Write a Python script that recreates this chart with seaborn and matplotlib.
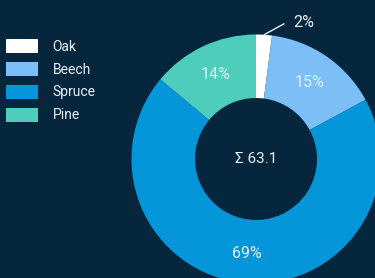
import numpy as np
import matplotlib
matplotlib.use("Agg")
import matplotlib.pyplot as plt
import seaborn as sns

species = ["Oak", "Beech", "Spruce", "Pine"]
volume = [1.3, 9.5, 43.5, 8.8]
colors = ["#ffffff", "#7cbff7", "#0496d9", "#4ecdbd"]

bg = "#06263d"
txt = "#e8eef3"

sns.set_theme(style="dark")
plt.rcParams["font.family"] = ["Roboto", "DejaVu Sans"]

fig = plt.figure(figsize=(3.75, 2.78), dpi=100, facecolor=bg)
ax = fig.add_axes([0, 0, 1, 1])
ax.set_facecolor(bg)

total = sum(volume)
cx, cy, r_out, r_in = 256, 119, 124.5, 61

wedges, _ = ax.pie(volume, colors=sns.color_palette(colors), startangle=90, counterclock=False,
                   center=(cx, cy), radius=r_out, frame=True,
                   wedgeprops=dict(width=r_out - r_in, linewidth=0))
ax.set_xlim(0, 375)
ax.set_ylim(0, 278)
ax.set_aspect("equal")
ax.axis("off")

for w, v in zip(wedges, volume):
    pct = v / total * 100
    ang = np.deg2rad((w.theta1 + w.theta2) / 2)
    if pct < 5:
        x0 = cx + r_out * np.cos(ang)
        y0 = cy + r_out * np.sin(ang)
        x1, y1 = x0 + 20, y0 + 11
        ax.plot([x0, x1], [y0, y1], color=txt, lw=1)
        ax.text(x1 + 9, y1 + 1, f"{pct:.0f}%", color=txt, fontsize=11.5, ha="left", va="center")
    else:
        d = 94
        ax.text(cx + d * np.cos(ang), cy + d * np.sin(ang) - 1, f"{pct:.0f}%",
                color=txt, fontsize=11.5, ha="center", va="center")

ax.text(cx, cy, f"Σ {total:.1f}", color=txt, fontsize=11, ha="center", va="center")

leg = ax.legend(wedges, species, loc="upper left", bbox_to_anchor=(6, 239),
                bbox_transform=ax.transData, frameon=False, fontsize=10,
                handlelength=2.3, handleheight=1.15, handletextpad=1.05,
                labelspacing=0.6, borderpad=0, borderaxespad=0)
for t in leg.get_texts():
    t.set_color(txt)

fig.savefig("out.png", dpi=100, facecolor=bg)
